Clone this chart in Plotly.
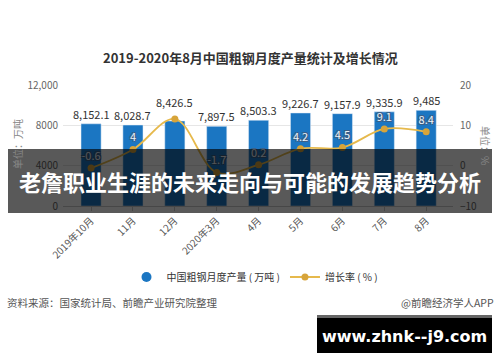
import plotly.graph_objects as go

categories = ["2019年10月", "11月", "12月", "2020年3月", "4月", "5月", "6月", "7月", "8月"]
output = [8152.1, 8028.7, 8426.5, 7897.5, 8503.3, 9226.7, 9157.9, 9335.9, 9485]
output_labels = ["8,152.1", "8,028.7", "8,426.5", "7,897.5", "8,503.3", "9,226.7", "9,157.9", "9,335.9", "9,485"]
growth = [-0.6, 4, 11.6, -1.7, 0.2, 4.2, 4.5, 9.1, 8.4]
growth_labels = ["-0.6", "4", "", "-1.7", "0.2", "4.2", "4.5", "9.1", "8.4"]
left_ticks = [0, 4000, 8000, 12000]
left_ticktext = ["0", "4000", "8000", "12,000"]
right_ticks = [-10, 0, 10, 20]

FONT = "Noto Sans CJK SC"
BAR = "#1b76c2"
GOLD = "#e6b94c"
GOLD_M = "#d7a43a"

W, H = 500, 362
L, R, T, B = 63, 47, 85, 156
pw, ph = W - L - R, H - T - B


def px(x):
    return (x - L) / pw


def py(y):
    return (H - B - y) / ph


fig = go.Figure()
fig.add_trace(go.Bar(
    x=categories, y=output, marker_color=BAR, width=0.48,
    showlegend=False, hoverinfo="skip",
))
# legend proxy for bars (circle marker)
fig.add_trace(go.Scatter(
    x=[None], y=[None], mode="markers", name="中国粗钢月度产量 ( 万吨 )",
    marker=dict(color=BAR, size=10, symbol="circle"),
))
fig.add_trace(go.Scatter(
    x=categories, y=growth, yaxis="y2", mode="lines+markers+text",
    name="增长率 ( % )",
    line=dict(color=GOLD, width=1.8, shape="spline", smoothing=1),
    marker=dict(color=GOLD_M, size=7),
    text=growth_labels, textposition="top center",
    textfont=dict(family=FONT, size=11, color="#eef3f8",
                  shadow="-1px -1px 0 #3b5f86, 1px -1px 0 #3b5f86, -1px 1px 0 #3b5f86, 1px 1px 0 #3b5f86"),
))

annotations = []
for i, (c, v, t) in enumerate(zip(categories, output, output_labels)):
    annotations.append(dict(
        x=c, y=v, xref="x", yref="y", text=t, showarrow=False,
        xanchor="center", yanchor="middle",
        yshift=19 if i == 2 else 10,
        font=dict(family=FONT, size=11, color="#333333"),
    ))


def note(text, x, y, size=10, color="#555555", xanchor="center", family=FONT, angle=0):
    annotations.append(dict(
        text=text, x=px(x), y=py(y), xref="paper", yref="paper", showarrow=False,
        xanchor=xanchor, yanchor="middle", textangle=angle,
        font=dict(family=family, size=size, color=color),
    ))


note("<b>2019-2020年8月中国粗钢月度产量统计及增长情况</b>", 250, 57, size=13, color="#333333")
note("单位：万吨", 17, 144, size=10, color="#888888", angle=-90)
note("单位：%", 486, 146, size=10, color="#888888", angle=90)
note("资料来源：国家统计局、前瞻产业研究院整理", 5, 302, size=10.5, xanchor="left")
note("@前瞻经济学人APP", 496, 302, size=10.5, xanchor="right")

fig.update_layout(
    width=W, height=H,
    margin=dict(l=L, r=R, t=T, b=B, autoexpand=False),
    paper_bgcolor="white", plot_bgcolor="white",
    font=dict(family=FONT, size=10, color="#666666"),
    xaxis=dict(
        range=[-0.67, 8.64], tickangle=-45, showgrid=False, automargin=False,
        showline=True, linecolor="#cccccc", ticks="outside", ticklen=4,
        tickcolor="#cccccc", tickfont=dict(size=10, color="#555555"),
        type="category",
    ),
    yaxis=dict(
        range=[0, 12000], tickvals=left_ticks, ticktext=left_ticktext, automargin=False,
        gridcolor="#e6e6e6", zeroline=False, showline=False,
        tickfont=dict(size=10, color="#666666"), ticklabelstandoff=4,
    ),
    yaxis2=dict(
        range=[-10, 20], tickvals=right_ticks, overlaying="y", side="right", automargin=False,
        showgrid=False, zeroline=False, tickfont=dict(size=10, color="#666666"),
        ticklabelstandoff=6,
    ),
    legend=dict(orientation="h", x=0.51, xanchor="center", xref="container",
                y=1 - 277 / H, yanchor="middle", yref="container",
                font=dict(family=FONT, size=10, color="#333333"),
                itemwidth=30, bgcolor="rgba(0,0,0,0)"),
    annotations=annotations,
)

# overlay band
fig.add_shape(type="rect", xref="paper", yref="paper", x0=px(8), x1=px(492), y0=py(213), y1=py(149),
              fillcolor="rgba(0,0,0,0.65)", line_width=0, layer="above")
fig.add_annotation(text="<b>老詹职业生涯的未来走向与可能的发展趋势分析</b>", x=px(250), y=py(181),
                   xref="paper", yref="paper", showarrow=False, xanchor="center", yanchor="middle",
                   font=dict(family=FONT, size=22, color="white"))
# watermark box
fig.add_shape(type="rect", xref="paper", yref="paper", x0=px(317), x1=px(492), y0=py(353), y1=py(315),
              fillcolor="black", line_width=0, layer="above")
fig.add_shape(type="rect", xref="paper", yref="paper", x0=px(317), x1=px(492), y0=py(318), y1=py(315),
              fillcolor="#666666", line_width=0, layer="above")
fig.add_annotation(text="<b>www.zhnk--j9.com</b>", x=px(404), y=py(336), xref="paper", yref="paper",
                   showarrow=False, xanchor="center", yanchor="middle",
                   font=dict(family="DejaVu Sans", size=16, color="white"))

fig.write_html("out.html", config={"displayModeBar": False},
               post_script="document.body.style.margin='0';document.body.style.overflow='hidden';")
